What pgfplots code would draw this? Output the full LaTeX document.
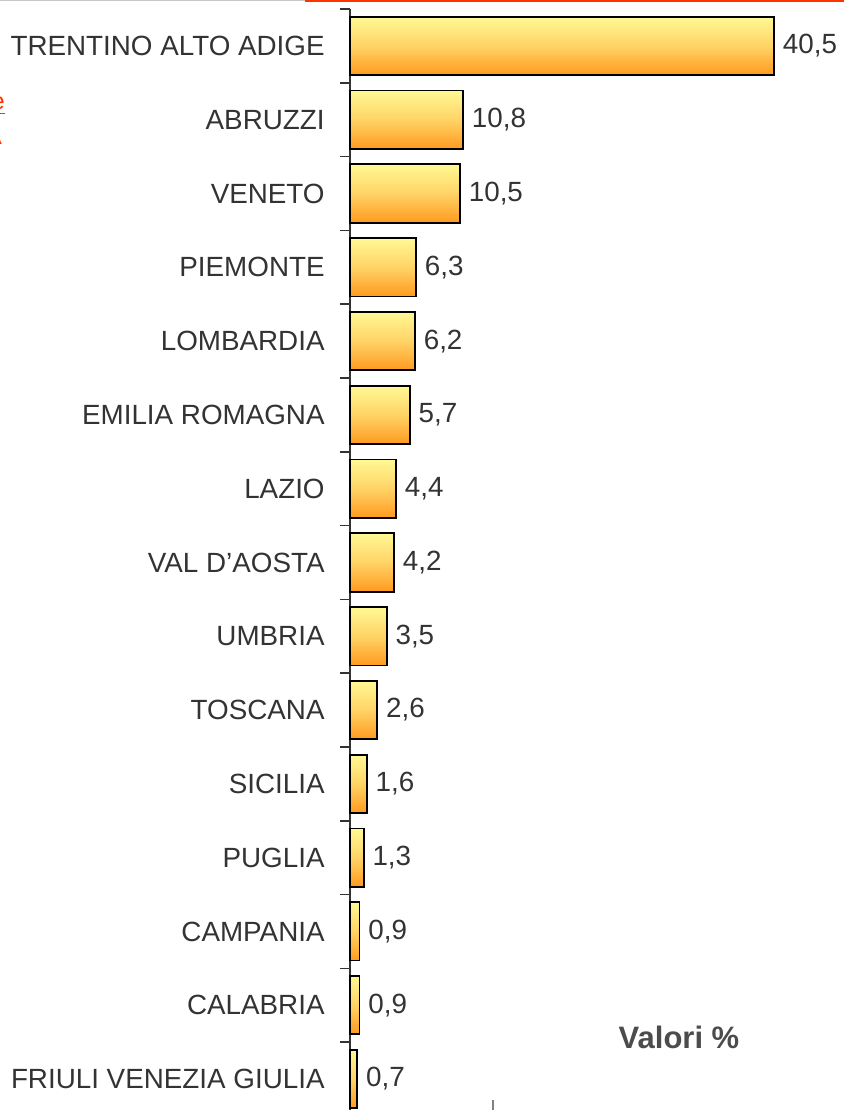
\documentclass[border=0pt]{standalone}
\usepackage{pgfplots}
\usepackage{pgfplotstable}
\pgfplotsset{compat=1.18}
\usepackage{fontspec}
\setmainfont{Liberation Sans}

\definecolor{txt}{HTML}{333333}
\definecolor{bartop}{HTML}{FFF994}
\definecolor{barmid}{HTML}{FFD366}
\definecolor{barbot}{HTML}{FF9A1F}
\definecolor{linkred}{HTML}{FF3300}

% regions, share in percent
\pgfplotstableread{
x y lab
40.5 0 {40,5}
10.8 1 {10,8}
10.5 2 {10,5}
6.3 3 {6,3}
6.2 4 {6,2}
5.7 5 {5,7}
4.4 6 {4,4}
4.2 7 {4,2}
3.5 8 {3,5}
2.6 9 {2,6}
1.6 10 {1,6}
1.3 11 {1,3}
0.9 12 {0,9}
0.9 13 {0,9}
0.7 14 {0,7}
}\regioni

\begin{document}
\begin{tikzpicture}
  \path[use as bounding box, clip] (0,0) rectangle (422pt,555pt);
  % bits of the page around the chart
  \fill[black!22] (0,554.5pt) rectangle (152.5pt,555pt);
  \fill[linkred] (152.5pt,554pt) rectangle (422pt,555pt);
  \node[anchor=base east, inner sep=0pt, text=linkred, font=\fontsize{12}{14}\selectfont]
    at (2.6pt,500pt) {\underline{e}};
  \node[anchor=base east, inner sep=0pt, text=linkred, font=\fontsize{12}{14}\selectfont]
    at (1.2pt,482.5pt) {A};
  \draw[black!50, line width=0.6pt] (246.5pt,0) -- (246.5pt,5pt);

  \begin{axis}[
    at={(175pt,0pt)}, anchor=south west,
    scale only axis,
    width=247pt, height=550.5pt,
    xmin=0, xmax=47.18,
    ymin=-0.5, ymax=14.42,
    y dir=reverse,
    axis lines*=left,
    x axis line style={draw=none},
    axis line style={txt, line width=0.8pt},
    xtick=\empty,
    ytick={0,...,14},
    yticklabels={TRENTINO ALTO ADIGE, ABRUZZI, VENETO, PIEMONTE, LOMBARDIA,
      EMILIA ROMAGNA, LAZIO, VAL D'AOSTA, UMBRIA, TOSCANA, SICILIA, PUGLIA,
      CAMPANIA, CALABRIA, FRIULI VENEZIA GIULIA},
    minor ytick={-0.5,0.5,...,13.5},
    major tick length=0pt,
    minor tick length=5pt,
    tick align=outside,
    tick style={txt, line width=0.8pt},
    yticklabel style={inner sep=0pt, anchor=east, xshift=-12.5pt,
      text=txt, font=\fontsize{13.9}{16}\selectfont},
    clip=false,
  ]
    % one plot per bar, so that each bar gets its own gradient
    \pgfplotsinvokeforeach{0,...,14}{
      \addplot[xbar, bar width=0.79, draw=black, line width=0.9pt,
        top color=bartop, bottom color=barbot, middle color=barmid,
        x filter/.expression={\coordindex==#1 ? x : nan},
        point meta=explicit symbolic,
        nodes near coords,
        nodes near coords style={anchor=west, inner sep=0pt, xshift=4pt,
          text=txt, font=\fontsize{13.9}{16}\selectfont}]
        table[x=x, y=y, meta=lab] {\regioni};
    }
  \end{axis}

  \node[text=black!70, font=\bfseries\fontsize{15.5}{18}\selectfont]
    at (339.5pt,36.5pt) {Valori \%};
\end{tikzpicture}
\end{document}
